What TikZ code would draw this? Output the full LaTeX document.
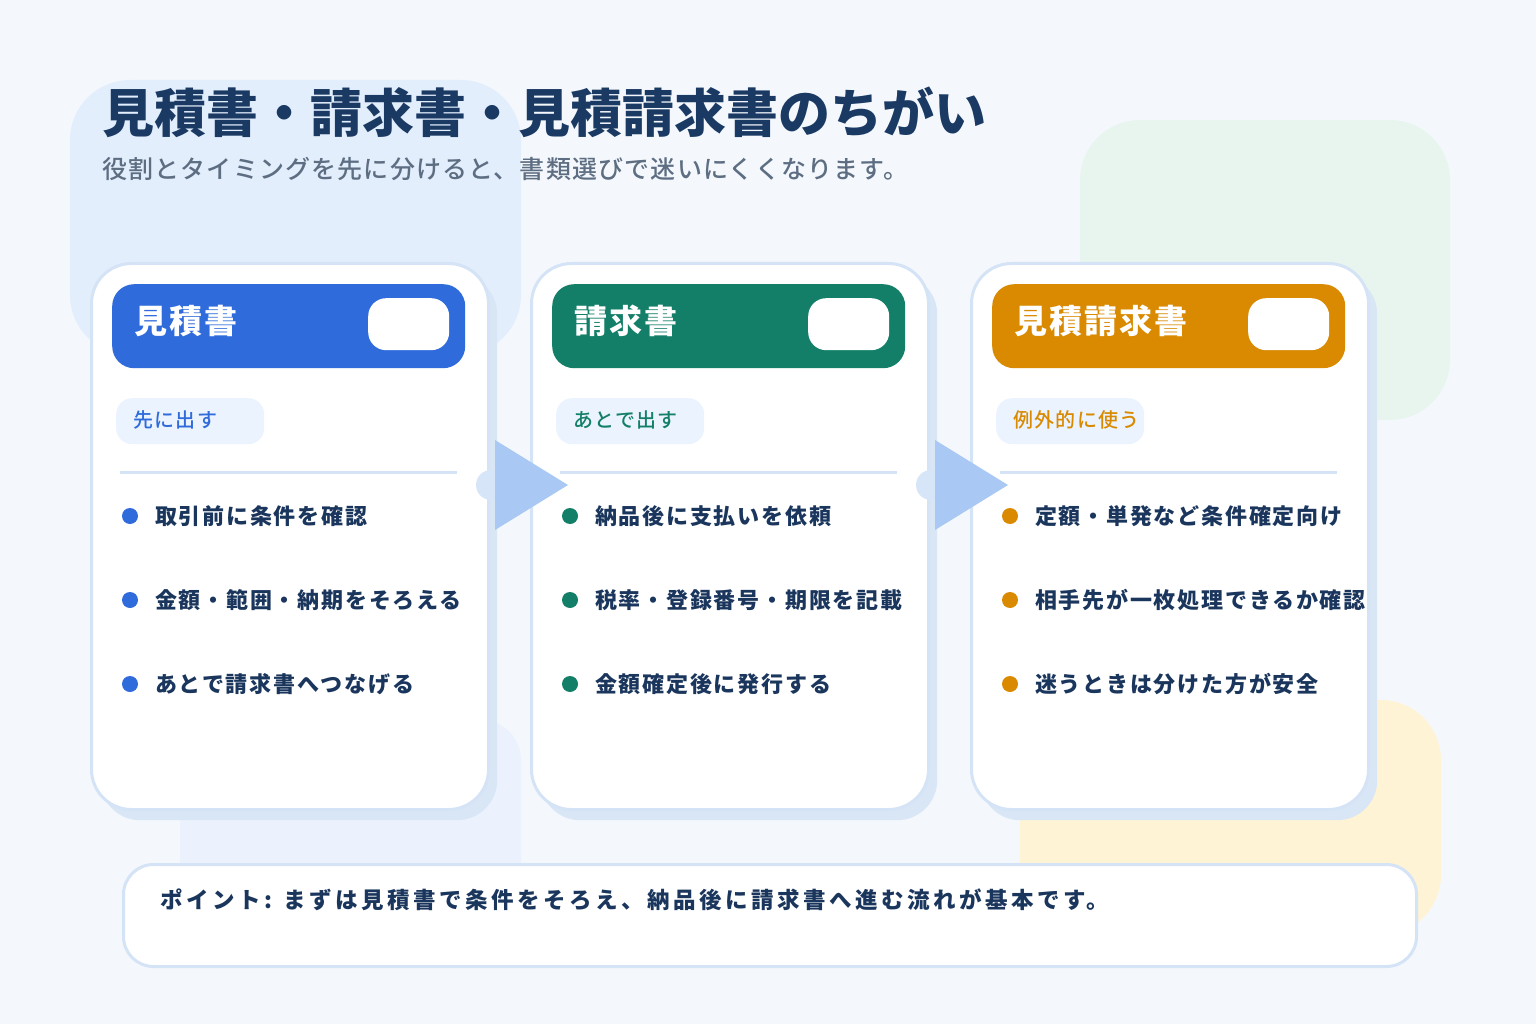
\documentclass[tikz,border=0pt]{standalone}
\usepackage{fontspec}
\setmainfont{Noto Sans CJK JP}
\newfontfamily\chuu{Noto Sans CJK JP Medium}
\usetikzlibrary{calc}

% いろ
\definecolor{haikei}{HTML}{F4F8FD}
\definecolor{aoiblob}{HTML}{E3EEFD}
\definecolor{midoriblob}{HTML}{E8F5EF}
\definecolor{kiiroblob}{HTML}{FFF3D6}
\definecolor{usuao}{HTML}{EBF2FE}
\definecolor{waku}{HTML}{D4E3F5}
\definecolor{kage}{HTML}{D9E6F6}
\definecolor{ao}{HTML}{2F6BDB}
\definecolor{midori}{HTML}{137F68}
\definecolor{daidai}{HTML}{D98A00}
\definecolor{tagiro}{HTML}{EBF3FE}
\definecolor{yaji}{HTML}{A9C8F4}
\definecolor{yajidai}{HTML}{D7E5F8}
\definecolor{kon}{HTML}{1B365D}
\definecolor{taitoru}{HTML}{1A3A63}
\definecolor{hai}{HTML}{5E6E82}

\begin{document}
\begin{tikzpicture}[x=1pt,y=-1pt,
	karta/.style={draw=waku, line width=3pt, fill=white, rounded corners=40pt,
		minimum width=397pt, minimum height=546pt, anchor=north west, inner sep=0pt},
	kartakage/.style={fill=kage, rounded corners=40pt,
		minimum width=397pt, minimum height=546pt, anchor=north west, inner sep=0pt},
	midashi/.style={rounded corners=22pt, minimum width=353pt, minimum height=84pt,
		anchor=north west, inner sep=0pt},
	shirobako/.style={fill=white, rounded corners=18pt, minimum width=81pt,
		minimum height=52pt, anchor=north west, inner sep=0pt},
	tagu/.style={fill=tagiro, rounded corners=16pt, minimum width=148pt,
		minimum height=46pt, anchor=north west, inner sep=0pt},
	moji/.style={anchor=west, inner sep=0pt},
	kajo/.style={moji, text=kon, font=\bfseries\fontsize{22}{28}\selectfont\addfontfeature{LetterSpace=8}},
	ten/.style={circle, minimum size=16pt, inner sep=0pt}
	]
	
	% haikei
	\useasboundingbox (0,0) rectangle (1536,1024);
	\fill[haikei] (0,0) rectangle (1536,1024);
	\fill[aoiblob, rounded corners=60pt] (70,80) rectangle (521,355);
	\fill[midoriblob, rounded corners=60pt] (1080,120) rectangle (1450,420);
	\fill[kiiroblob, rounded corners=60pt] (1020,700) rectangle (1441,935);
	\fill[usuao, rounded corners=40pt] (180,720) rectangle (521,900);
	
	% taitoru
	\node[moji, text=taitoru, font=\bfseries\fontsize{52}{60}\selectfont]
	(taitoru) at (102,112) {見積書・請求書・見積請求書のちがい};
	\node[moji, text=hai, font=\chuu\fontsize{25}{30}\selectfont\addfontfeature{LetterSpace=4.7}]
	(sabu) at (102,169) {役割とタイミングを先に分けると、書類選びで迷いにくくなります。};
	
	% kaado
	\foreach \i/\x/\iro/\mei/\tag/\ba/\bb/\bc in {
		1/0/ao/見積書/先に出す/取引前に条件を確認/金額・範囲・納期をそろえる/あとで請求書へつなげる,
		2/440/midori/請求書/あとで出す/納品後に支払いを依頼/税率・登録番号・期限を記載/金額確定後に発行する,
		3/880/daidai/見積請求書/例外的に使う/定額・単発など条件確定向け/相手先が一枚処理できるか確認/迷うときは分けた方が安全}
	{
		\node[kartakage] (kage\i) at (100+\x,274) {};
		\node[karta] (karta\i) at (90+\x,262) {};
		\node[midashi, fill=\iro] (midashi\i) at (112+\x,284) {};
		\node[shirobako] (shiro\i) at (368+\x,298) {};
		\node[moji, text=white, font=\bfseries\fontsize{33}{40}\selectfont\addfontfeature{LetterSpace=6}]
		(mei\i) at (134+\x,321) {\mei};
		\node[tagu] (tagu\i) at (116+\x,398) {};
		\node[moji, text=\iro, font=\chuu\fontsize{20}{26}\selectfont\addfontfeature{LetterSpace=6.5}]
		(tagumoji\i) at (133+\x,420) {\tag};
		\draw[waku, line width=3pt] (120+\x,472) -- (457+\x,472);
		
		\node[ten, fill=\iro] (tenA\i) at (130+\x,516) {};
		\node[kajo] (kajoA\i) at (155+\x,516) {\ba};
		\node[ten, fill=\iro] (tenB\i) at (130+\x,600) {};
		\node[kajo] (kajoB\i) at (155+\x,600) {\bb};
		\node[ten, fill=\iro] (tenC\i) at (130+\x,684) {};
		\node[kajo] (kajoC\i) at (155+\x,684) {\bc};
	}
	
	% yajirushi
	\foreach \i in {1,2}
	{
		\coordinate (ya\i) at ($(karta\i.north east)+(5,223)$);
		\fill[yajidai, rounded corners=15pt] ($(ya\i)+(-19,-15)$) rectangle ($(ya\i)+(15,15)$);
		\fill[yaji] (ya\i) ++(0,-45) -- ++(73,45) -- ++(-73,45) -- cycle;
	}
	
	% pointo
	\node[draw=waku, line width=3pt, fill=white, rounded corners=30pt,
	minimum width=1293pt, minimum height=102pt, anchor=north west, inner sep=0pt]
	(pointo) at (122,863) {};
	\node[moji, text=kon, font=\bfseries\fontsize{22.5}{28}\selectfont\addfontfeature{LetterSpace=15.5}]
	(pointomoji) at (160,900) {ポイント: まずは見積書で条件をそろえ、納品後に請求書へ進む流れが基本です。};
	
\end{tikzpicture}
\end{document}
